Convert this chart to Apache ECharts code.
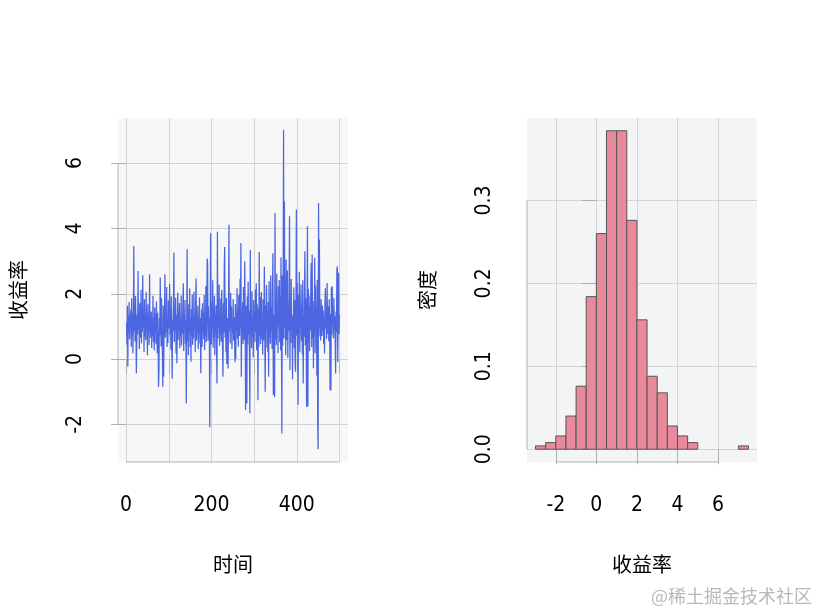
<!DOCTYPE html>
<html><head><meta charset="utf-8">
<script src="https://cdn.jsdelivr.net/npm/echarts@6/dist/echarts.min.js"></script>
<style>html,body{margin:0;padding:0;background:#fff}#c{width:818px;height:609px}</style>
</head><body><div id="c"></div>
<script>
// ---- data ----
const returns = [
1.12,0.45,1.63,-0.23,1.35,0.82,1.74,0.61,1.28,0.95,
1.52,0.38,1.86,0.72,1.41,0.18,1.05,3.46,0.87,1.62,
0.54,1.93,1.18,-0.43,-0.44,1.37,0.76,2.70,0.92,1.48,
0.31,1.71,1.04,0.66,2.12,0.48,1.29,0.83,2.57,0.97,
1.56,0.22,1.83,0.69,1.24,0.58,2.05,0.91,1.37,0.12,
1.68,0.79,1.15,0.43,2.60,0.88,1.02,0.65,1.46,0.34,
1.27,0.71,1.94,0.53,1.09,0.26,1.58,0.84,1.33,0.47,
1.76,0.95,0.18,1.42,0.61,-0.85,-0.32,1.25,0.73,2.50,
1.11,0.39,1.87,0.58,0.21,-0.85,1.64,-0.54,0.92,1.31,
2.60,0.66,1.48,0.83,2.21,0.37,1.15,0.49,1.79,0.94,
1.36,2.30,0.74,1.58,0.29,1.92,0.63,-0.60,1.21,0.85,
1.67,3.26,0.52,1.43,0.91,1.88,0.17,1.35,-0.13,1.06,
2.04,0.58,1.49,0.86,1.72,0.33,1.24,0.69,1.95,0.42,
1.13,0.78,1.62,2.32,0.25,1.38,0.96,1.81,0.47,1.17,
-1.36,0.88,3.36,0.55,1.44,0.12,1.69,0.81,2.16,0.38,
1.27,-0.08,1.53,0.72,1.98,0.44,1.11,0.63,2.06,0.92,
1.35,0.21,1.74,2.47,0.57,1.29,0.86,1.63,0.31,1.18,
0.74,1.89,0.48,1.26,-0.43,0.95,1.52,0.37,1.71,0.82,
1.43,0.61,1.96,0.28,1.15,0.73,2.24,0.52,1.34,3.08,
2.93,0.56,1.62,0.84,1.27,-2.09,0.71,3.85,1.08,0.45,
1.76,0.93,2.41,0.35,1.58,0.67,1.94,0.12,1.39,0.88,
1.65,0.29,-0.75,3.90,0.62,1.47,0.95,2.28,0.41,1.19,
0.78,1.86,0.53,2.12,1.04,0.36,-0.54,1.71,0.82,2.78,
3.43,0.65,1.53,0.21,1.88,-0.15,1.26,0.74,-0.29,1.45,
4.11,0.86,1.34,0.48,2.03,0.97,1.62,0.31,1.15,0.79,
1.84,0.57,1.28,0.92,-0.10,1.69,0.00,1.41,0.86,2.17,
0.63,1.52,0.38,1.96,1.12,0.71,2.46,0.94,3.55,-0.54,
1.37,0.82,1.74,0.46,2.21,1.05,0.59,2.99,1.28,-1.56,
0.87,1.63,-1.36,1.92,0.44,2.37,0.76,1.48,0.25,-1.66,
3.34,0.91,1.57,0.33,2.08,0.68,1.24,0.05,1.81,0.97,
1.46,0.52,2.13,0.84,2.32,0.27,1.69,0.93,-1.26,1.55,
0.38,3.28,0.71,1.90,0.46,1.37,2.05,0.62,1.18,0.14,
1.83,0.57,1.29,2.83,0.79,-1.00,1.64,0.35,2.27,0.96,
1.41,0.22,1.75,-0.54,2.38,0.68,1.12,0.47,2.56,0.83,
1.58,0.31,1.97,3.24,-1.10,1.36,0.74,-1.16,4.47,0.59,
1.82,0.43,2.61,0.97,1.48,0.18,2.24,1.06,2.42,0.52,
1.93,0.26,3.12,0.74,-2.28,2.56,0.41,1.88,7.02,0.63,
4.83,0.95,2.37,0.12,3.05,1.27,0.58,2.71,0.03,1.64,
0.86,2.18,4.37,-0.34,1.73,0.49,2.45,0.91,1.36,-0.62,
1.27,0.64,2.19,0.35,1.81,-0.12,-0.39,1.53,4.58,0.72,
2.34,0.48,-1.40,1.96,0.83,2.67,0.21,1.45,0.97,2.28,
0.56,1.72,0.14,2.41,-0.75,1.33,0.68,2.05,3.30,0.42,
1.87,0.79,-1.47,1.26,4.07,-1.45,2.15,0.51,1.63,0.24,
1.94,0.87,2.52,2.94,0.36,3.20,0.63,1.78,-0.28,1.41,
0.75,3.10,0.18,2.26,0.92,1.57,-0.51,2.43,-2.00,-2.76,
4.78,0.69,3.66,0.94,1.38,0.57,1.83,1.02,0.71,1.64,
0.88,1.49,0.46,1.27,0.17,1.72,2.17,0.93,1.56,0.62,
2.33,1.14,0.78,1.61,0.55,1.83,0.97,-0.96,1.38,-0.95,
2.20,0.73,2.23,1.06,1.52,0.64,1.87,0.89,1.31,0.58,
-0.44,1.46,0.82,2.75,2.84,-0.09,1.21,2.64,0.77,1.35
];
const tsXTicks = [0,100,200,300,400,500];
const tsXLabels = [0,200,400];
const tsYTicks = [-2,0,2,4,6];

const histBinStart = [-3,-2.5,-2,-1.5,-1,-0.5,0,0.5,1,1.5,2,2.5,3,3.5,4,4.5,7];
const histBinWidth = 0.5;
const histDensity = [0.004,0.008,0.016,0.040,0.076,0.184,0.260,0.384,0.384,0.276,0.156,0.088,0.068,0.028,0.016,0.008,0.004];
const histXTicks = [-2,0,2,4,6];
const histYTicks = [0,0.1,0.2,0.3];

// ---- styles ----
const NUMFONT = '"Liberation Sans Narrow","DejaVu Sans Condensed","Liberation Sans",Arial,sans-serif';
const CJKFONT = '"Noto Sans CJK SC","Noto Sans",sans-serif';
const AXISCOL = '#b0b0b0';
const GRIDCOL = '#d3d3d3';

const tsX = [-19, 520], tsY = [-3.15, 7.38];
const hX = [-3.42, 7.92], hY = [-0.0154, 0.3994];

function xAxisDef(grid, ext, ticks, labels, name) {
  return {
    gridIndex: grid, type: 'value', min: ext[0], max: ext[1],
    axisLine: {show: false},
    axisTick: {show: true, customValues: ticks, length: 15, lineStyle: {color: AXISCOL, width: 1}},
    axisLabel: {customValues: labels, margin: 33, fontSize: 21, color: '#000', fontFamily: NUMFONT},
    splitLine: {show: true, lineStyle: {color: GRIDCOL, width: 1}},
    name: name, nameLocation: 'middle', nameGap: 92,
    nameTextStyle: {fontSize: 20, color: '#000', fontFamily: CJKFONT}
  };
}
function yAxisDef(grid, ext, ticks, name, fmt) {
  return {
    gridIndex: grid, type: 'value', min: ext[0], max: ext[1],
    axisLine: {show: false},
    axisTick: {show: true, customValues: ticks, length: 15, lineStyle: {color: AXISCOL, width: 1}},
    axisLabel: {customValues: ticks, margin: 32, rotate: 90, fontSize: 21, color: '#000', fontFamily: NUMFONT,
      formatter: fmt},
    splitLine: {show: true, lineStyle: {color: GRIDCOL, width: 1}},
    name: name, nameLocation: 'middle', nameGap: 90, nameRotate: 90,
    nameTextStyle: {fontSize: 20, color: '#000', fontFamily: CJKFONT}
  };
}
function axisLineSeries(xi, pts) {
  return {type: 'line', xAxisIndex: xi, yAxisIndex: xi, data: pts, symbol: 'none', silent: true,
    clip: false, lineStyle: {color: AXISCOL, width: 1}, z: 1};
}

const chart = echarts.init(document.getElementById('c'), null, {renderer: 'canvas'});
chart.setOption({
  animation: false,
  backgroundColor: '#ffffff',
  grid: [
    {left: 118, top: 118, width: 230, height: 344, show: true, backgroundColor: '#f7f7f7', borderWidth: 0},
    {left: 527, top: 118, width: 230, height: 344, show: true, backgroundColor: '#f3f4f5', borderWidth: 0}
  ],
  xAxis: [
    xAxisDef(0, tsX, tsXTicks, tsXLabels, '时间'),
    xAxisDef(1, hX, histXTicks, histXTicks, '收益率')
  ],
  yAxis: [
    yAxisDef(0, tsY, tsYTicks, '收益率', v => String(v)),
    yAxisDef(1, hY, histYTicks, '密度', v => Number(v).toFixed(1))
  ],
  series: [
    axisLineSeries(0, [[tsXTicks[0], tsY[0]], [tsXTicks[tsXTicks.length-1], tsY[0]]]),
    axisLineSeries(0, [[tsX[0], tsYTicks[0]], [tsX[0], tsYTicks[tsYTicks.length-1]]]),
    axisLineSeries(1, [[histXTicks[0], hY[0]], [histXTicks[histXTicks.length-1], hY[0]]]),
    axisLineSeries(1, [[hX[0], histYTicks[0]], [hX[0], histYTicks[histYTicks.length-1]]]),
    {
      type: 'line', xAxisIndex: 0, yAxisIndex: 0, symbol: 'none', silent: true,
      data: returns.map((v, i) => [i + 1, v]),
      lineStyle: {color: '#4b66e0', width: 1.25}, z: 3
    },
    {
      type: 'custom', xAxisIndex: 1, yAxisIndex: 1, silent: true, z: 3,
      data: histBinStart.map((s, i) => [s, s + histBinWidth, histDensity[i]]),
      encode: {x: [0, 1], y: 2},
      renderItem: function (params, api) {
        const p0 = api.coord([api.value(0), 0]);
        const p1 = api.coord([api.value(1), api.value(2)]);
        return {type: 'rect', shape: {x: p0[0], y: p1[1], width: p1[0] - p0[0], height: p0[1] - p1[1]},
          style: {fill: '#e8899c', stroke: '#555555', lineWidth: 1}};
      }
    }
  ],
  graphic: [
    {type: 'text', right: 6, bottom: 4,
     style: {text: '@稀土掘金技术社区', fill: '#b8b8b8', fontSize: 18, fontFamily: CJKFONT}}
  ]
});
</script></body></html>
